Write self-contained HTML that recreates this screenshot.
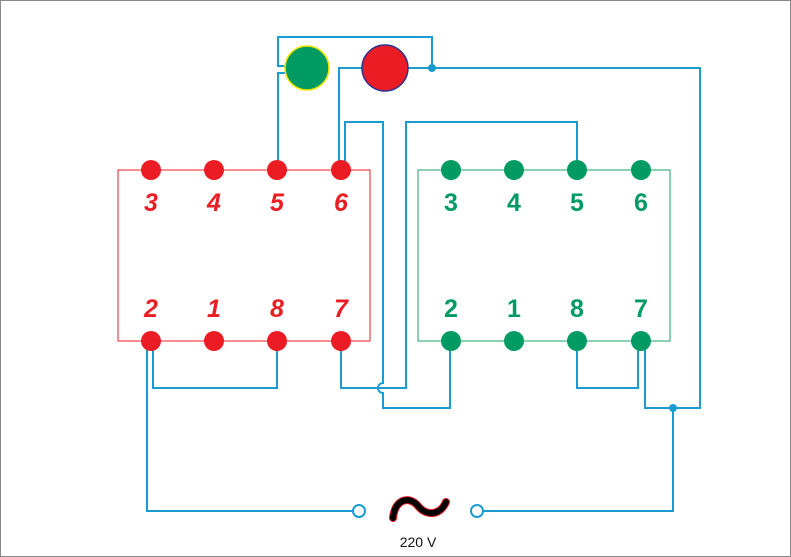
<!DOCTYPE html>
<html><head><style>body{margin:0;background:#fff}svg{display:block}</style></head><body>
<svg width="791" height="557" xmlns="http://www.w3.org/2000/svg">
<rect x="0.5" y="0.5" width="790" height="556" fill="#fff" stroke="#888"/>
<rect x="118" y="170" width="252" height="171" fill="none" stroke="#ec1c24" stroke-width="1"/>
<rect x="418" y="170" width="252" height="171" fill="none" stroke="#19a463" stroke-width="1"/>
<g fill="none" stroke="#1a9bd1" stroke-width="2">
<path d="M278 65 V37 H432 V68"/>
<path d="M286 66 H278 V65"/>
<path d="M286 73 H278 V170"/>
<path d="M363 68 H339 V168"/>
<path d="M407 68 H700 V408 H645 V341"/>
<path d="M673 408 V511 H483"/>
<path d="M147 341 V511 H353"/>
<path d="M345 168 V122 H383 V383 A5 5 0 0 0 383 393 V408 H450 V341"/>
<path d="M341 341 V388 H406 V122 H577 V170"/>
<path d="M153 341 V388 H277 V341"/>
<path d="M577 341 V388 H638 V341"/>
</g>
<circle cx="432" cy="68" r="4" fill="#1a9bd1"/>
<circle cx="673" cy="408" r="4" fill="#1a9bd1"/>
<circle cx="359" cy="511" r="6" fill="#fff" stroke="#1a9bd1" stroke-width="2"/>
<circle cx="477" cy="511" r="6" fill="#fff" stroke="#1a9bd1" stroke-width="2"/>
<circle cx="307" cy="68" r="22" fill="#009a63" stroke="#f5e600" stroke-width="1.5"/>
<circle cx="385" cy="68" r="23" fill="#ec1c24" stroke="#2e3192" stroke-width="1.5"/>
<g fill="#ec1c24">
<circle cx="151" cy="170" r="10"/><circle cx="214" cy="170" r="10"/><circle cx="277" cy="170" r="10"/><circle cx="341" cy="170" r="10"/>
<circle cx="151" cy="341" r="10"/><circle cx="214" cy="341" r="10"/><circle cx="277" cy="341" r="10"/><circle cx="341" cy="341" r="10"/>
</g>
<g fill="#009a63">
<circle cx="451" cy="170" r="10"/><circle cx="514" cy="170" r="10"/><circle cx="577" cy="170" r="10"/><circle cx="641" cy="170" r="10"/>
<circle cx="451" cy="341" r="10"/><circle cx="514" cy="341" r="10"/><circle cx="577" cy="341" r="10"/><circle cx="641" cy="341" r="10"/>
</g>
<g font-family="Liberation Sans, sans-serif" font-size="25" font-weight="bold" font-style="italic" fill="#ec1c24" text-anchor="middle">
<text x="151" y="211">3</text><text x="214" y="211">4</text><text x="277" y="211">5</text><text x="341" y="211">6</text>
<text x="151" y="317">2</text><text x="214" y="317">1</text><text x="277" y="317">8</text><text x="341" y="317">7</text>
</g>
<g font-family="Liberation Sans, sans-serif" font-size="25" font-weight="bold" fill="#009a63" text-anchor="middle">
<text x="451" y="211">3</text><text x="514" y="211">4</text><text x="577" y="211">5</text><text x="641" y="211">6</text>
<text x="451" y="317">2</text><text x="514" y="317">1</text><text x="577" y="317">8</text><text x="641" y="317">7</text>
</g>
<path d="M393 518 C395 498 410 496 418 506 C426 516 440 516 446 502" fill="none" stroke="#ec1c24" stroke-width="8" stroke-linecap="round"/>
<path d="M393 518 C395 498 410 496 418 506 C426 516 440 516 446 502" fill="none" stroke="#000" stroke-width="6" stroke-linecap="round"/>
<text x="418" y="547" font-family="Liberation Sans, sans-serif" font-size="14" fill="#111" text-anchor="middle">220 V</text>
</svg>
</body></html>
